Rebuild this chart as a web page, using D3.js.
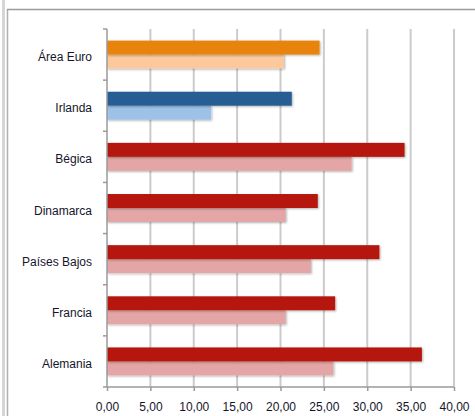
<!DOCTYPE html>
<html>
<head>
<meta charset="utf-8">
<script src="https://cdn.jsdelivr.net/npm/d3@7"></script>
<style>
body{margin:0;background:#fff}
text{font-family:"Liberation Sans",Arial,sans-serif;font-size:12px;fill:#15152a}
</style>
</head>
<body>
<svg id="chart"></svg>
<script>
// data
var categories=["Área Euro","Irlanda","Bégica","Dinamarca","Países Bajos","Francia","Alemania"]
var serie1=[24.5,21.3,34.3,24.3,31.4,26.3,36.3]
var serie2=[20.4,12.0,28.2,20.6,23.5,20.6,26.1]
var ticks=[0,5,10,15,20,25,30,35,40]

var dark=["#e8830a","#285d93","#b5180c","#b5180c","#b5180c","#b5180c","#b5180c"]
var light=["#fbc99c","#9dc2e8","#e3a5a5","#e3a5a5","#e3a5a5","#e3a5a5","#e3a5a5"]

var width=475
var height=416

var svg=d3.select("#chart")
    .attr("width",width)
    .attr("height",height)

var defs=svg.append("defs")
var f=defs.append("filter").attr("id","sh").attr("x","-5%").attr("y","-20%").attr("width","115%").attr("height","160%")
f.append("feDropShadow").attr("dx",1).attr("dy",1).attr("stdDeviation",0.8).attr("flood-color","#000").attr("flood-opacity",0.3)

// frame
svg.append("rect").attr("x",2).attr("y",0).attr("width",3).attr("height",height).attr("fill","#d6d6d6")
svg.append("line").attr("x1",7.5).attr("x2",7.5).attr("y1",9).attr("y2",height).attr("stroke","#b0b0b0").attr("stroke-width",1.5)
svg.append("line").attr("x1",7).attr("x2",width).attr("y1",9.5).attr("y2",9.5).attr("stroke","#9a9a9a").attr("stroke-width",1.5)

var x=d3.scaleLinear().domain([0,40]).range([107,454])
var y=d3.scaleBand().domain(categories).range([29,387])
var sub=d3.scaleBand().domain(["a","b"]).range([0,y.bandwidth()]).paddingOuter(0.83)

var data=categories.map(function(c,i){
    return {name:c,a:serie1[i],b:serie2[i],ca:dark[i],cb:light[i]}
})

// gridlines
svg.append("g")
    .selectAll("line")
    .data(ticks.slice(1))
    .enter()
    .append("line")
    .attr("x1",x).attr("x2",x)
    .attr("y1",29).attr("y2",387)
    .attr("stroke","#cbcbcb")
    .attr("stroke-width",2)

// bars
var g=svg.append("g").selectAll("g")
    .data(data)
    .enter()
    .append("g")
    .attr("transform",function(d){return "translate(0,"+y(d.name)+")"})

g.append("rect")
    .attr("x",x(0))
    .attr("y",sub("b"))
    .attr("width",function(d){return x(d.b)-x(0)})
    .attr("height",sub.bandwidth())
    .attr("fill",function(d){return d.cb})
    .attr("filter","url(#sh)")

g.append("rect")
    .attr("x",x(0))
    .attr("y",sub("a"))
    .attr("width",function(d){return x(d.a)-x(0)})
    .attr("height",sub.bandwidth())
    .attr("fill",function(d){return d.ca})
    .attr("filter","url(#sh)")

// axes
var xAxis=d3.axisBottom(x).tickValues(ticks).tickSize(4).tickPadding(11)
    .tickFormat(function(d){return d3.format(".2f")(d).replace(".",",")})
var gx=svg.append("g").attr("transform","translate(0,387)").call(xAxis)
gx.select(".domain").attr("stroke","#9a9a9a").attr("stroke-width",1.5).attr("d","M103,0H454")
gx.selectAll(".tick line").attr("stroke","#9a9a9a").attr("stroke-width",1.5)
gx.selectAll("text").attr("font-size",12).attr("fill","#15152a")

var yAxis=d3.axisLeft(y).tickSize(0).tickPadding(15)
var gy=svg.append("g").attr("transform","translate(107,0)").call(yAxis)
gy.select(".domain").attr("stroke","#9a9a9a").attr("stroke-width",1.5).attr("d","M0,29V387")
gy.selectAll("text").attr("font-size",12).attr("fill","#15152a").attr("dy","0.55em")

// category separators on left axis
svg.append("g").selectAll("line")
    .data(categories)
    .enter()
    .append("line")
    .attr("x1",103).attr("x2",107)
    .attr("y1",function(d){return y(d)}).attr("y2",function(d){return y(d)})
    .attr("stroke","#9a9a9a").attr("stroke-width",1.5)
</script>
</body>
</html>
